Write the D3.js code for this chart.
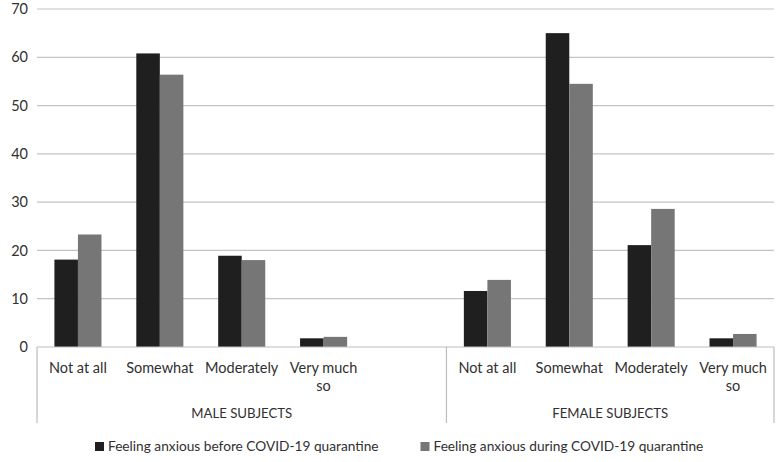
<!DOCTYPE html>
<html><head><meta charset="utf-8">
<script src="https://cdn.jsdelivr.net/npm/d3@7/dist/d3.min.js"></script>
<style>body{margin:0;background:#fff}text{font-family:Lato,sans-serif;}</style>
</head><body><svg id="c" width="784" height="462"></svg>
<script>
const groups = ["MALE SUBJECTS", "FEMALE SUBJECTS"];
const categories = [
  ["Not at all", "Somewhat", "Moderately", "Very much so", ""],
  ["Not at all", "Somewhat", "Moderately", "Very much so"]
];
const series = ["Feeling anxious before COVID-19 quarantine", "Feeling anxious during COVID-19 quarantine"];
const before = [[18.1, 60.8, 18.9, 1.8, null], [11.6, 65.0, 21.1, 1.8]];
const during = [[23.3, 56.4, 18.0, 2.1, null], [13.9, 54.5, 28.6, 2.7]];
const yTicks = [0, 10, 20, 30, 40, 50, 60, 70];
const colors = ["#1f1f1f", "#767676"];

const FS = 14.5, TXT = "#303030";
const svg = d3.select("#c");
const L = 37, R = 774, T = 9, B = 347;
const slots = [];
categories.forEach((cats, g) => cats.forEach((c, i) => slots.push({g, i, key: g + "|" + i, label: c,
  vals: [before[g][i], during[g][i]]})));
const x = d3.scaleBand().domain(slots.map(d => d.key)).range([L, R]);
const xs = d3.scaleBand().domain([0, 1]).range([0, x.bandwidth()]).paddingInner(0).paddingOuter(0.74);
const y = d3.scaleLinear().domain([0, 70]).range([B, T]);

// gridlines
svg.append("g").selectAll("line").data(yTicks.filter(t => t > 0)).join("line")
  .attr("x1", L).attr("x2", R).attr("y1", d => y(d)).attr("y2", d => y(d))
  .attr("stroke", "#c4c4c4").attr("stroke-width", 1.2);

// y axis labels
const ya = svg.append("g").attr("transform", `translate(${L},0)`)
  .call(d3.axisLeft(y).tickValues(yTicks).tickSize(0).tickPadding(9));
ya.select(".domain").remove();
ya.selectAll("text").attr("font-size", FS).attr("fill", TXT).style("font-family", "Lato,sans-serif");

// bars
const sg = svg.append("g").selectAll("g").data(slots).join("g").attr("transform", d => `translate(${x(d.key)},0)`);
sg.selectAll("rect").data(d => d.vals.map((v, s) => ({v, s})).filter(e => e.v != null)).join("rect")
  .attr("x", e => xs(e.s)).attr("width", xs.bandwidth())
  .attr("y", e => y(e.v)).attr("height", e => B - y(e.v))
  .attr("fill", e => colors[e.s]);

// x axis line
svg.append("line").attr("x1", L).attr("x2", R).attr("y1", B).attr("y2", B).attr("stroke", "#bdbdbd").attr("stroke-width", 1.2);

// category labels
sg.each(function(d) {
  if (!d.label) return;
  const g = d3.select(this);
  const cx = x.bandwidth() / 2;
  const words = d.label === "Very much so" ? ["Very much", "so"] : [d.label];
  words.forEach((w, k) => g.append("text").attr("x", cx).attr("y", 372.5 + k * 18.5)
    .attr("text-anchor", "middle").attr("font-size", FS).attr("fill", TXT).text(w));
});

// group separators
const bounds = [L];
let acc = 0;
categories.forEach(c => { acc += c.length; bounds.push(x(slots[acc - 1].key) + x.bandwidth()); });
svg.append("g").selectAll("line").data(bounds).join("line")
  .attr("x1", d => d).attr("x2", d => d).attr("y1", B).attr("y2", 423)
  .attr("stroke", "#bdbdbd").attr("stroke-width", 1.2);
groups.forEach((gname, g) => {
  svg.append("text").attr("x", (bounds[g] + bounds[g + 1]) / 2).attr("y", 417.5)
    .attr("text-anchor", "middle").attr("font-size", 13.2).attr("fill", TXT).text(gname);
});

// legend
const legX = [95, 420.5];
series.forEach((s, i) => {
  svg.append("rect").attr("x", legX[i]).attr("y", 442).attr("width", 9).attr("height", 9).attr("fill", colors[i]);
  svg.append("text").attr("x", legX[i] + 13).attr("y", 451).attr("font-size", 13.7).attr("fill", TXT).text(s);
});
</script></body></html>
